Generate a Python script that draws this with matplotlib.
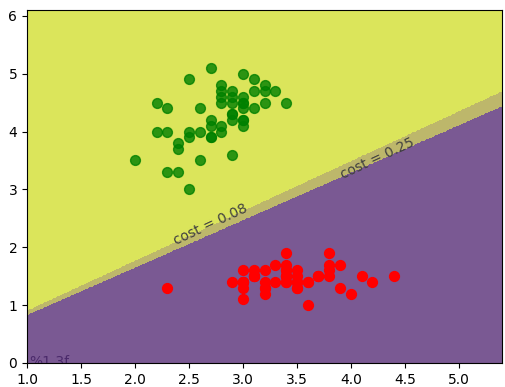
import numpy as np
import matplotlib
matplotlib.use("Agg")
import matplotlib.pyplot as plt

# setosa: sepal width vs petal length
setosa_x = [3.5, 3.0, 3.2, 3.1, 3.6, 3.9, 3.4, 3.4, 2.9, 3.1, 3.7, 3.4, 3.0, 3.0, 4.0, 4.4, 3.9,
            3.5, 3.8, 3.8, 3.4, 3.7, 3.6, 3.3, 3.4, 3.0, 3.4, 3.5, 3.4, 3.2, 3.1, 3.4, 4.1, 4.2,
            3.1, 3.2, 3.5, 3.6, 3.0, 3.4, 3.5, 2.3, 3.2, 3.5, 3.8, 3.0, 3.8, 3.2, 3.7, 3.3]
setosa_y = [1.4, 1.4, 1.3, 1.5, 1.4, 1.7, 1.4, 1.5, 1.4, 1.5, 1.5, 1.6, 1.4, 1.1, 1.2, 1.5, 1.3,
            1.4, 1.7, 1.5, 1.7, 1.5, 1.0, 1.7, 1.9, 1.6, 1.6, 1.5, 1.4, 1.6, 1.6, 1.5, 1.5, 1.4,
            1.5, 1.2, 1.3, 1.4, 1.3, 1.5, 1.3, 1.3, 1.3, 1.6, 1.9, 1.4, 1.6, 1.4, 1.5, 1.4]

# versicolor
versi_x = [3.2, 3.2, 3.1, 2.3, 2.8, 2.8, 3.3, 2.4, 2.9, 2.7, 2.0, 3.0, 2.2, 2.9, 2.9, 3.1, 3.0,
           2.7, 2.2, 2.5, 3.2, 2.8, 2.5, 2.8, 2.9, 3.0, 2.8, 3.0, 2.9, 2.6, 2.4, 2.4, 2.7, 2.7,
           3.0, 3.4, 3.1, 2.3, 3.0, 2.5, 2.6, 3.0, 2.6, 2.3, 2.7, 3.0, 2.9, 2.9, 2.5, 2.8]
versi_y = [4.7, 4.5, 4.9, 4.0, 4.6, 4.5, 4.7, 3.3, 4.6, 3.9, 3.5, 4.2, 4.0, 4.7, 3.6, 4.4, 4.5,
           4.1, 4.5, 3.9, 4.8, 4.0, 4.9, 4.7, 4.3, 4.4, 4.8, 5.0, 4.5, 3.5, 3.8, 3.7, 3.9, 5.1,
           4.5, 4.5, 4.7, 4.4, 4.1, 4.0, 4.4, 4.6, 4.0, 3.3, 4.2, 4.2, 4.2, 4.3, 3.0, 4.1]

# decision boundaries y = b + w*x for the two costs
bound_a = (0.08, 0.90 - 0.861, 0.861)
bound_b = (0.25, 0.83 - 0.820, 0.820)

fig = plt.figure(figsize=(5.05, 3.87), dpi=100)
ax = fig.add_axes([27/505, 24/387, 475/505, 353/387])

xx, yy = np.meshgrid(np.linspace(1.0, 5.4, 400), np.linspace(0, 6.1, 400))
za = (yy > bound_a[1] + bound_a[2]*xx).astype(float)
zb = (yy > bound_b[1] + bound_b[2]*xx).astype(float)
ax.contourf(xx, yy, za, levels=[-0.5, 0.5, 1.5], colors=["#7a5993", "#dbe55b"])
band = np.where((za == 0) & (zb == 1), 1.0, np.nan)
ax.contourf(xx, yy, band, levels=[0.5, 1.5], colors=["#bdb76b"])

ang = 25
ax.text(2.70, 2.40, "cost = 0.08", rotation=ang, color="#404040", fontsize=10,
        ha="center", va="center")
ax.text(4.25, 3.54, "cost = 0.25", rotation=ang, color="#404040", fontsize=10,
        ha="center", va="center")
ax.text(1.02, 0.02, "%1.3f", color="#4b2a6b", fontsize=10, ha="left", va="center",
        clip_on=True)

ax.scatter(setosa_x, setosa_y, color="red", s=50, zorder=3)
ax.scatter(versi_x, versi_y, color="green", alpha=0.8, s=50, zorder=3)

ax.set_xlim(1.0, 5.4)
ax.set_ylim(0, 6.1)
ax.set_xticks([1.0, 1.5, 2.0, 2.5, 3.0, 3.5, 4.0, 4.5, 5.0])
ax.set_yticks([0, 1, 2, 3, 4, 5, 6])

plt.savefig("out.png", dpi=100)
